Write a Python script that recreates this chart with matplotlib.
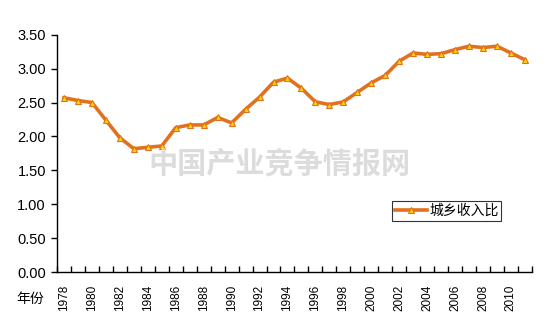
import matplotlib
matplotlib.use("Agg")
import matplotlib.pyplot as plt
from matplotlib.ticker import FixedLocator, NullFormatter

plt.rcParams['font.family'] = ['Liberation Sans', 'Noto Sans CJK SC', 'DejaVu Sans']

years = list(range(1978, 2012))
ratio = [2.57, 2.53, 2.50, 2.24, 1.98, 1.82, 1.84, 1.86, 2.13, 2.17,
         2.17, 2.28, 2.20, 2.40, 2.58, 2.80, 2.86, 2.71, 2.51, 2.47,
         2.51, 2.65, 2.79, 2.90, 3.11, 3.23, 3.21, 3.22, 3.28, 3.33,
         3.31, 3.33, 3.23, 3.13]
y_ticks = [0.0, 0.5, 1.0, 1.5, 2.0, 2.5, 3.0, 3.5]
series_name = "城乡收入比"

fig = plt.figure(figsize=(5.58, 3.21), dpi=100)
ax = fig.add_axes([0.1022, 0.152, 0.851, 0.74])

x = list(range(len(years)))
ax.plot(x, ratio, color="#E2711D", lw=2.6, marker="^", markersize=5,
        markerfacecolor="#FFD700", markeredgecolor="#E2711D", markeredgewidth=0.8,
        label=series_name)

ax.set_xlim(-0.5, len(years) - 0.5)
ax.set_ylim(0, 3.5)
ax.set_yticks(y_ticks)
ax.set_yticklabels(["%.2f" % v for v in y_ticks], fontsize=10.5)
ax.tick_params(axis="y", direction="out", length=4, width=1, pad=4)

# category boundaries get inward ticks, labels every other year
ax.xaxis.set_minor_locator(FixedLocator([i - 0.5 for i in range(len(years) + 1)]))
ax.xaxis.set_minor_formatter(NullFormatter())
ax.set_xticks(x[::2])
ax.set_xticklabels([str(y) for y in years[::2]], rotation=90, fontsize=8.5)
ax.tick_params(axis="x", which="major", length=0, pad=9)
ax.tick_params(axis="x", which="minor", direction="in", length=4, width=1)

for s in ["top", "right"]:
    ax.spines[s].set_visible(False)
for s in ["left", "bottom"]:
    ax.spines[s].set_linewidth(1)

fig.text(0.055, 0.07, "年份", fontsize=10, ha="center", va="center")

fig.text(0.50, 0.49, "中国产业竞争情报网", fontsize=21, color="#DCDCDC",
         ha="center", va="center", fontweight="bold",
         family=["Noto Sans CJK SC", "DejaVu Sans"], zorder=0)

leg = ax.legend(loc="upper left", bbox_to_anchor=(0.705, 0.30), frameon=True,
                fancybox=False, edgecolor="black", fontsize=10,
                handlelength=2.3, handletextpad=0.2, borderpad=0.2,
                borderaxespad=0)
leg.get_frame().set_linewidth(0.8)

fig.savefig("out.png", dpi=100)
